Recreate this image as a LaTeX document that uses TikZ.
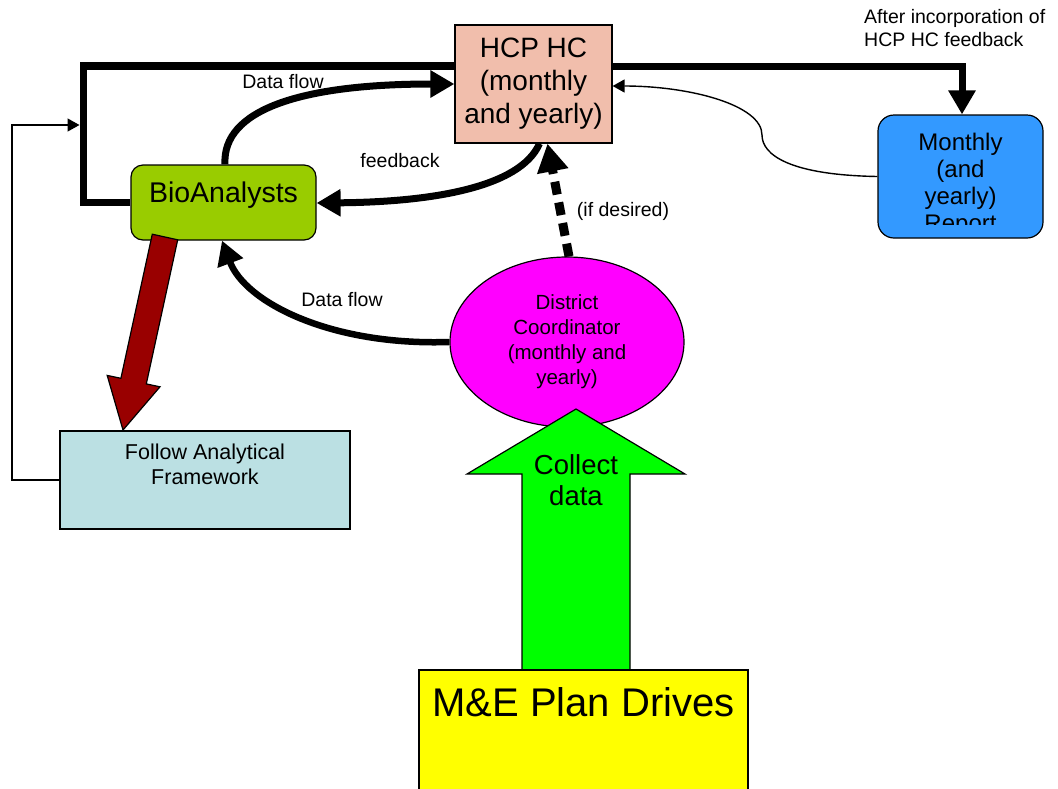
\documentclass[tikz,border=0pt]{standalone}
\usepackage{fontspec}
\setmainfont{Liberation Sans}
\usetikzlibrary{shapes.geometric,arrows.meta}
\definecolor{hcpc}{RGB}{241,190,172}
\definecolor{monc}{RGB}{51,153,255}
\definecolor{bioc}{RGB}{153,204,0}
\definecolor{dcc}{RGB}{255,0,255}
\definecolor{folc}{RGB}{187,224,227}
\definecolor{mec}{RGB}{255,255,0}
\definecolor{grnc}{RGB}{0,255,0}
\definecolor{redc}{RGB}{153,0,0}
\newcommand{\myfs}[2]{\fontsize{#1pt}{#2pt}\selectfont}
\begin{document}
\begin{tikzpicture}[x=1pt,y=-1pt,
  box/.style={draw=black,line width=1.2pt,inner sep=0pt},
  heavy/.style={line width=7pt,-{Triangle[length=24pt,width=26pt]}},
  heavyplain/.style={line width=7.5pt},
  thinarrow/.style={line width=1.4pt,-{Triangle[length=12pt,width=13pt]}},
  lbl/.style={inner sep=0pt,font=\myfs{19.5}{23}},
  shapeline/.style={draw=black,line width=1.2pt}
]
\useasboundingbox (0,0) rectangle (1058,788);

% nodes
\node[box,fill=hcpc,minimum width=157pt,minimum height=118pt,align=center,font=\myfs{28}{33}] (hcp) at (533.5,84) {HCP HC\\(monthly\\and yearly)};
\node[box,fill=monc,rounded corners=16pt,minimum width=165pt,minimum height=123pt] (mon) at (960.5,176.5) {};
\begin{scope}
  \clip (878,115) rectangle (1043,224);
  \node[inner sep=0pt,align=center,font=\myfs{24}{27}] (montxt) at (960.5,184.5) {Monthly\\(and\\yearly)\\Report};
\end{scope}
\node[box,fill=bioc,rounded corners=12pt,minimum width=185pt,minimum height=75pt,font=\myfs{28.5}{33},text height=20pt,text depth=20pt] (bio) at (223.5,202.5) {BioAnalysts};
\node[box,fill=dcc,ellipse,minimum width=234pt,minimum height=170pt,align=center,font=\myfs{20.5}{25}] (dc) at (567,342) {District\\Coordinator\\(monthly and\\yearly)};
\node[box,fill=folc,minimum width=290pt,minimum height=98pt] (fol) at (205,480) {};
\node[inner sep=0pt,align=center,font=\myfs{21.5}{25}] (foltxt) at (205,464.5) {Follow Analytical\\Framework};

% green block arrow
\draw[shapeline,fill=grnc] (522,672) -- (522,474) -- (467,474) -- (576,409) -- (685,474) -- (630,474) -- (630,672) -- cycle;
\node[inner sep=0pt,align=center,font=\myfs{27.5}{31}] (collect) at (576,480) {Collect\\data};

% M&E box
\node[box,fill=mec,minimum width=329pt,minimum height=125pt] (me) at (583.5,732.5) {};
\node[inner sep=0pt,font=\myfs{40}{44}] (metxt) at (583.5,702) {M\&E Plan Drives};

% red block arrow
\draw[shapeline,fill=redc] (152.3,234.2) -- (120.9,378.3) -- (107.2,375.4) -- (123,430) -- (160.0,386.8) -- (146.3,383.9) -- (177.7,239.8) -- cycle;

% thick frame line
\coordinate (tl) at (83.5,202.5);
\coordinate (tt) at (83.5,66);
\coordinate (tr) at (962,66);
\draw[heavyplain,line join=miter] (bio.west) -- (tl) -- (tt) -- (hcp.west |- tt);
\draw[heavy,line join=miter] (hcp.east |- tt) -- (tr) -- (mon.north -| tr);

% thin feedback loop from framework
\coordinate (fl) at (12,480);
\coordinate (fu) at (12,125);
\coordinate (fe) at (79.5,125);
\draw[thinarrow] (fol.west) -- (fl) -- (fu) -- (fe);

% data flow top
\draw[heavy] ([xshift=1.5pt]bio.north) .. controls (222,110) and (300,84) .. (hcp.west |- 0,84);
\node[lbl] (df1) at (283,82) {Data flow};

% feedback
\draw[heavy] ([xshift=6pt]hcp.south) .. controls (520,188) and (430,202) .. (bio.east |- 0,203);
\node[lbl] (fbl) at (400,161) {feedback};

% dashed if desired
\draw[line width=9pt,dash pattern=on 13pt off 8pt,-{Triangle[length=28pt,width=30pt]}] ([xshift=2pt]dc.north) -- ([xshift=14pt]hcp.south);
\node[lbl] (ifd) at (623,211) {(if desired)};

% data flow bottom
\draw[line width=6.5pt,-{Triangle[length=24pt,width=26pt]}] (dc.west) .. controls (330,346) and (245,302) .. ([xshift=-1.5pt]bio.south);
\node[lbl] (df2) at (342,300) {Data flow};

% thin curve from monthly report
\coordinate (mid) at (762,135);
\draw[line width=1.4pt] (mon.west) .. controls (790,175) and (762,155) .. (mid);
\draw[thinarrow] (mid) .. controls (762,105) and (690,86) .. (hcp.east |- 0,86);

% top-right note
\node[lbl,align=left,anchor=west] (note) at (864,28.5) {After incorporation of\\HCP HC feedback};
\end{tikzpicture}
\end{document}
